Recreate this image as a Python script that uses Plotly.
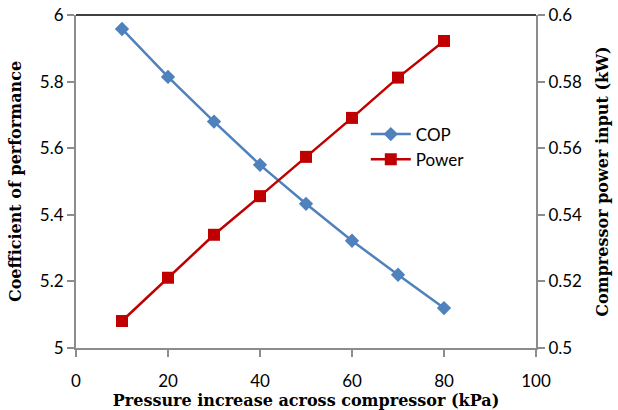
import plotly.graph_objects as go

pressure = [10, 20, 30, 40, 50, 60, 70, 80]
cop = [5.958, 5.814, 5.680, 5.550, 5.433, 5.322, 5.220, 5.120]
power = [0.5081, 0.5211, 0.5340, 0.5456, 0.5574, 0.5691, 0.5812, 0.5922]

blue = "#4F81BD"
red = "#C00000"
grey = "#8C8C8C"
tickfont = dict(family="Lato, Open Sans, sans-serif", size=17, color="black")
titlefont = dict(family="DejaVu Serif, serif", size=16, color="black")

fig = go.Figure()
fig.add_trace(go.Scatter(x=pressure, y=cop, name="COP", mode="lines+markers",
                         line=dict(color=blue, width=2.5),
                         marker=dict(symbol="diamond", size=11, color=blue)))
fig.add_trace(go.Scatter(x=pressure, y=power, name="Power", mode="lines+markers",
                         yaxis="y2",
                         line=dict(color=red, width=2.5),
                         marker=dict(symbol="square", size=12, color=red)))

fig.update_layout(
    width=618, height=410,
    margin=dict(l=76, r=82, t=15, b=62),
    paper_bgcolor="white", plot_bgcolor="white",
    showlegend=True,
    legend=dict(x=0.63, y=0.695, xanchor="left", yanchor="top",
                bgcolor="rgba(0,0,0,0)", font=dict(family="Lato, Open Sans, sans-serif", size=17, color="black"),
                tracegroupgap=0, itemwidth=40),
    xaxis=dict(range=[0, 100], dtick=20, showgrid=False, zeroline=False, automargin=False,
               showline=True, linecolor=grey, linewidth=2,
               ticks="outside", ticklen=7, tickcolor=grey, tickwidth=2,
               tickfont=tickfont, ticklabelstandoff=10,
               title=dict(text="<b>Pressure increase across compressor (kPa)</b>", font=titlefont, standoff=0)),
    yaxis=dict(range=[5, 6], dtick=0.2, showgrid=False, zeroline=False, automargin=False,
               showline=True, linecolor=grey, linewidth=2,
               ticks="outside", ticklen=7, tickcolor=grey, tickwidth=2,
               tickfont=tickfont,
               title=dict(text="<b>Coefficient of performance</b>", font=titlefont, standoff=14)),
    yaxis2=dict(range=[0.5, 0.6], dtick=0.02, overlaying="y", side="right", automargin=False,
                showgrid=False, zeroline=False,
                showline=True, linecolor=grey, linewidth=2,
                ticks="outside", ticklen=7, tickcolor=grey, tickwidth=2,
                tickfont=tickfont,
                title=dict(text="<b>Compressor power input (kW)</b>", font=titlefont, standoff=16)),
    shapes=[dict(type="line", xref="paper", yref="paper", x0=0, x1=1, y0=1, y1=1,
                 line=dict(color="black", width=1.5))],
)

fig.write_html("out.html", config={"displayModeBar": False},
               post_script="document.body.style.margin='0px';")
